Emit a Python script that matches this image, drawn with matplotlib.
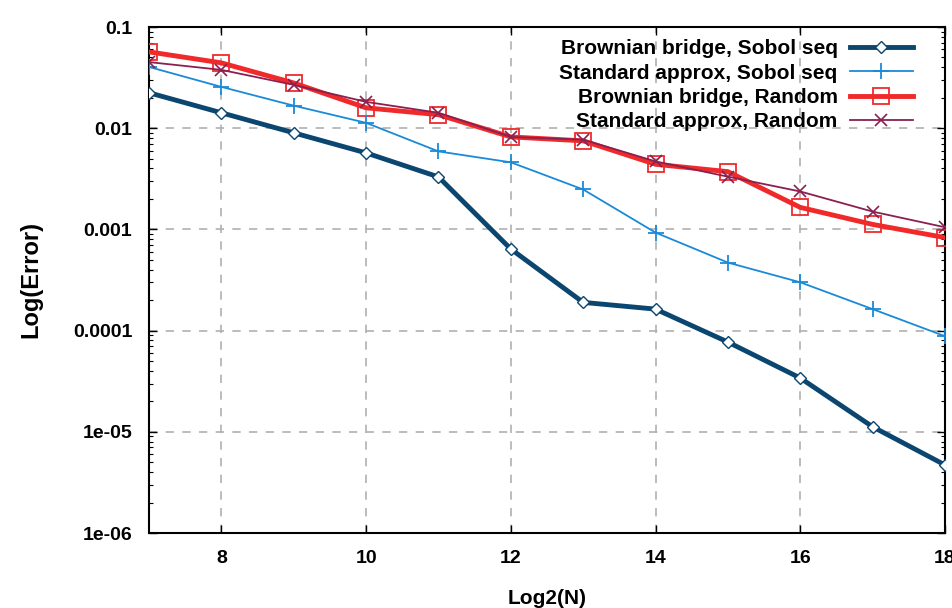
import matplotlib
matplotlib.use("Agg")
import matplotlib.pyplot as plt
from matplotlib.ticker import FixedLocator, LogLocator, NullFormatter

plt.rcParams['font.family'] = ['Liberation Sans', 'DejaVu Sans']

log2n = [7, 8, 9, 10, 11, 12, 13, 14, 15, 16, 17, 18]
bb_sobol = [0.0224, 0.0142, 0.0090, 0.0057, 0.0033, 0.00064, 0.00019, 0.000163,
            7.7e-5, 3.4e-5, 1.12e-5, 4.7e-6]
std_sobol = [0.0403, 0.0256, 0.0167, 0.0113, 0.0059, 0.0046, 0.00248, 0.00093,
             0.00047, 0.00030, 0.000163, 8.8e-5]
bb_random = [0.0568, 0.0442, 0.028, 0.0159, 0.0136, 0.0082, 0.0075, 0.0044,
             0.00372, 0.00165, 0.00112, 0.00083]
std_random = [0.045, 0.0377, 0.0268, 0.0182, 0.0142, 0.0082, 0.0077, 0.0047,
              0.00332, 0.00237, 0.00150, 0.00105]

labels = ["Brownian bridge, Sobol seq", "Standard approx, Sobol seq",
          "Brownian bridge, Random", "Standard approx, Random"]
xticks = [8, 10, 12, 14, 16, 18]
yticks = [1e-6, 1e-5, 1e-4, 1e-3, 1e-2, 1e-1]
ytick_labels = ["1e-06", "1e-05", "0.0001", "0.001", "0.01", "0.1"]

fig = plt.figure(figsize=(9.52, 6.08), dpi=100)
ax = fig.add_axes([149/952, 1-533/608, (945-149)/952, (533-27)/608])

ax.plot(log2n, bb_sobol, color='#0a4670', lw=3.5, marker='D', ms=6,
        mfc='white', mec='#0a4670', mew=1.0, label=labels[0], zorder=5)
ax.plot(log2n, std_sobol, color='#1a8ad8', lw=1.3, marker='+', ms=12,
        mew=1.3, label=labels[1], zorder=4)
ax.plot(log2n, bb_random, color='#f02a2a', lw=3.5, marker='s', ms=12,
        mfc='none', mec='#f02a2a', mew=1.3, label=labels[2], zorder=3)
ax.plot(log2n, std_random, color='#8a2050', lw=1.3, marker='x', ms=9,
        mew=1.2, label=labels[3], zorder=6)

ax.set_yscale('log')
ax.set_xlim(7, 18)
ax.set_ylim(1e-6, 0.1)
ax.xaxis.set_major_locator(FixedLocator(xticks))
ax.set_xticklabels([str(t) for t in xticks])
ax.yaxis.set_major_locator(FixedLocator(yticks))
ax.set_yticklabels(ytick_labels)
ax.yaxis.set_minor_locator(LogLocator(base=10, subs=(2, 3, 4, 5, 6, 7, 8, 9), numticks=20))
ax.yaxis.set_minor_formatter(NullFormatter())

ax.tick_params(axis='both', which='both', direction='in', top=True, right=True,
               labelsize=14)
ax.tick_params(axis='both', which='major', length=6, width=1, pad=12)
ax.tick_params(axis='y', which='minor', length=3, width=0.8)
for lab in ax.get_xticklabels() + ax.get_yticklabels():
    lab.set_fontweight('bold')

ax.grid(True, which='major', color='#b0b0b0', linestyle=(0, (5, 5)), lw=1.2)
for s in ax.spines.values():
    s.set_linewidth(1.5)
    s.set_color('black')

ax.set_xlabel('Log2(N)', fontsize=15, fontweight='bold', labelpad=16)
ax.set_ylabel('Log(Error)', fontsize=17, fontweight='bold', labelpad=22)

leg = ax.legend(loc='upper right', bbox_to_anchor=(0.975, 1.0), frameon=False,
                markerfirst=False, prop={'weight': 'bold', 'size': 15},
                handlelength=3.0, labelspacing=0.25, borderaxespad=0.2,
                handletextpad=0.6)
for t in leg.get_texts():
    t.set_ha('right')
leg._legend_box.align = 'right'

fig.savefig('out.png', dpi=100)
